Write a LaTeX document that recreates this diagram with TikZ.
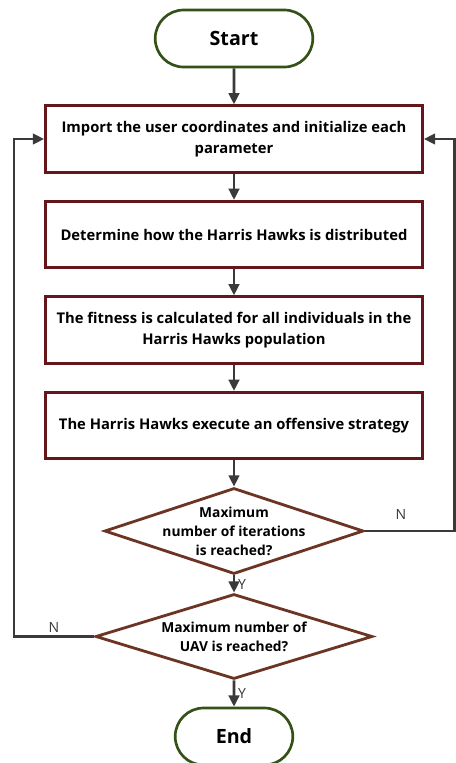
\documentclass[tikz,border=0pt]{standalone}
\usepackage{fontspec}
\setmainfont{Open Sans}
\usetikzlibrary{shapes.geometric,shapes.misc,arrows.meta}

\definecolor{boxred}{RGB}{100,22,26}
\definecolor{dmdbrown}{RGB}{108,52,34}
\definecolor{termgreen}{RGB}{52,82,24}
\definecolor{linegray}{RGB}{58,58,58}

\begin{document}
\begin{tikzpicture}[
    term/.style={rounded rectangle, draw=termgreen, line width=1.9pt, minimum width=4.175cm, minimum height=1.425cm, font=\fontsize{14}{16}\selectfont\bfseries},
    procbox/.style={rectangle, draw=boxred, line width=2pt, minimum width=9.425cm, minimum height=1.66cm, align=center, font=\fontsize{10.5}{15}\selectfont\bfseries},
    decision/.style={diamond, draw=dmdbrown, line width=2pt, inner sep=0pt},
    dtext/.style={align=center, font=\fontsize{9.8}{13.5}\selectfont\bfseries},
    flow/.style={draw=linegray, line width=1.9pt, -{Triangle[length=8pt,width=7.5pt]}},
    yn/.style={font=\fontsize{10}{12}\selectfont, text=linegray, inner sep=2pt}
]
    \useasboundingbox (0,0) rectangle (11.4,-19.075);

    \node[term](start)at(5.85,-0.9625){Start};
    \node[procbox](init)at(5.85,-3.475){Import the user coordinates and initialize each\\parameter};
    \node[procbox](distrib)at(5.85,-5.8625){Determine how the Harris Hawks is distributed};
    \node[procbox](fitness)at(5.85,-8.25){The fitness is calculated for all individuals in the\\Harris Hawks population};
    \node[procbox](attack)at(5.85,-10.6375){The Harris Hawks execute an offensive strategy};
    \node[decision, minimum width=6.475cm, minimum height=2.15cm,
        label={[dtext]center:Maximum\\number of iterations\\is reached?}](iter)at(5.85,-13.275){};
    \node[decision, minimum width=6.925cm, minimum height=2.125cm,
        label={[dtext]center:Maximum number of\\UAV is reached?}](uav)at(5.85,-15.9125){};
    \node[term, minimum width=3.175cm](finish)at(5.85,-18.4125){End};

    \coordinate(rturn)at(11.37,-13.275);
    \coordinate(lturn)at(0.35,-15.9125);

    \draw[flow](start)--(init);
    \draw[flow](init)--(distrib);
    \draw[flow](distrib)--(fitness);
    \draw[flow](fitness)--(attack);
    \draw[flow](attack)--(iter);
    \draw[flow](iter)--(uav)node[midway, right, yn]{Y};
    \draw[flow](uav)--(finish)node[midway, right, yn]{Y};
    \draw[flow](iter.east)--(rturn)node[pos=0.4, above, yn, yshift=5pt]{N}|-(init.east);
    \draw[flow](uav.west)--(lturn)node[midway, above, yn]{N}|-(init.west);
\end{tikzpicture}
\end{document}
